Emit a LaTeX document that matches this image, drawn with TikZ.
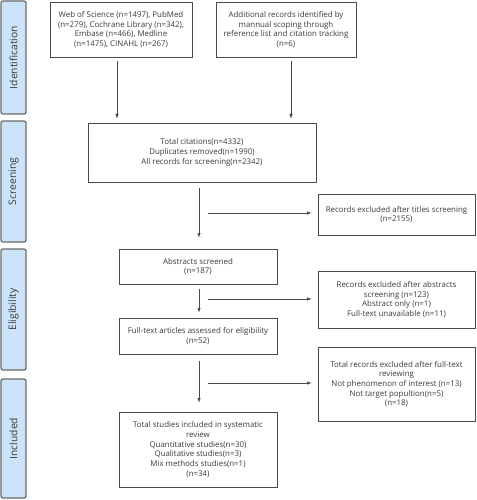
\documentclass[tikz,border=0pt]{standalone}
\usepackage{fontspec}
\setmainfont{Open Sans}
\usetikzlibrary{arrows.meta}
\definecolor{bar}{HTML}{CCE4FA}
\definecolor{barline}{HTML}{6A6A6A}
\definecolor{boxline}{HTML}{4A4A4A}
\definecolor{txt}{HTML}{3A3A3A}
\tikzset{
  phase/.style={draw=barline, line width=1.3pt, fill=bar, rounded corners=2pt, inner sep=0pt, minimum width=25pt,
    text=txt, font=\fontsize{10.3}{12}\selectfont},
  box/.style={draw=boxline, line width=0.9pt, inner sep=1pt, text=txt, align=center,
    font=\fontsize{7.9}{9.7}\selectfont},
  arr/.style={draw=boxline, line width=0.8pt, -{Latex[length=5pt,width=3.4pt]}}
}
\begin{document}
\begin{tikzpicture}[x=1pt,y=-1pt]
\useasboundingbox (0,0) rectangle (476,500);
% phase bars
\node[phase, minimum height=113pt] (p1) at (13.5,57.5) {\rotatebox{90}{Identification}};
\node[phase, minimum height=121pt] (p2) at (13.5,181.5) {\rotatebox{90}{Screening}};
\node[phase, minimum height=121pt] (p3) at (13.5,309.5) {\rotatebox{90}{Eligibility}};
\node[phase, minimum height=119pt] (p4) at (13.5,438.5) {\rotatebox{90}{Included}};
% boxes
\node[box, minimum width=142pt, minimum height=55pt] (b1) at (121,29.5)
  {Web of Science (n=1497), PubMed\\(n=279), Cochrane Library (n=342),\\Embase (n=466), Medline\\(n=1475), CINAHL (n=267)};
\node[box, minimum width=140pt, minimum height=55pt] (b2) at (286,29.5)
  {Additional records identified by\\mannual scoping through\\reference list and citation tracking\\(n=6)};
\node[box, minimum width=228pt, minimum height=59pt] (b3) at (202,152.5)
  {Total citations(n=4332)\\Duplicates removed(n=1990)\\All records for screening(n=2342)};
\node[box, minimum width=157pt, minimum height=41pt] (b4) at (396.5,214.5)
  {Records excluded after titles screening\\(n=2155)};
\node[box, minimum width=158pt, minimum height=35pt] (b5) at (198,266.5)
  {Abstracts screened\\(n=187)};
\node[box, minimum width=157pt, minimum height=57pt] (b6) at (396.5,299.5)
  {Records excluded after abstracts\\screening (n=123)\\Abstract only (n=1)\\Full-text unavailable (n=11)};
\node[box, minimum width=158pt, minimum height=36pt] (b7) at (198,336)
  {Full-text articles assessed for eligibility\\(n=52)};
\node[box, minimum width=157pt, minimum height=74pt] (b8) at (396.5,384)
  {Total records excluded after full-text\\reviewing\\Not phenomenon of interest (n=13)\\Not target popultion(n=5)\\(n=18)};
\node[box, minimum width=158pt, minimum height=75pt] (b9) at (198,449.5)
  {Total studies included in systematic\\review\\Quantitative studies(n=30)\\Qualitative studies(n=3)\\Mix methods studies(n=1)\\(n=34)};
% connector coordinates
\coordinate (a1s) at (117,61);  \coordinate (a1e) at (117,119);
\coordinate (a2s) at (291,61);  \coordinate (a2e) at (291,119);
\coordinate (a3s) at (199,188); \coordinate (a3e) at (199,238);
\coordinate (s1s) at (208,213); \coordinate (s1e) at (312,213);
\coordinate (a4s) at (199,289); \coordinate (a4e) at (199,313);
\coordinate (s2s) at (208,299); \coordinate (s2e) at (312,299);
\coordinate (a5s) at (199,361); \coordinate (a5e) at (199,403);
\coordinate (s3s) at (208,383); \coordinate (s3e) at (312,383);
\draw[arr] (a1s) -- (a1e);
\draw[arr] (a2s) -- (a2e);
\draw[arr] (a3s) -- (a3e);
\draw[arr] (s1s) -- (s1e);
\draw[arr] (a4s) -- (a4e);
\draw[arr] (s2s) -- (s2e);
\draw[arr] (a5s) -- (a5e);
\draw[arr] (s3s) -- (s3e);
\end{tikzpicture}
\end{document}
